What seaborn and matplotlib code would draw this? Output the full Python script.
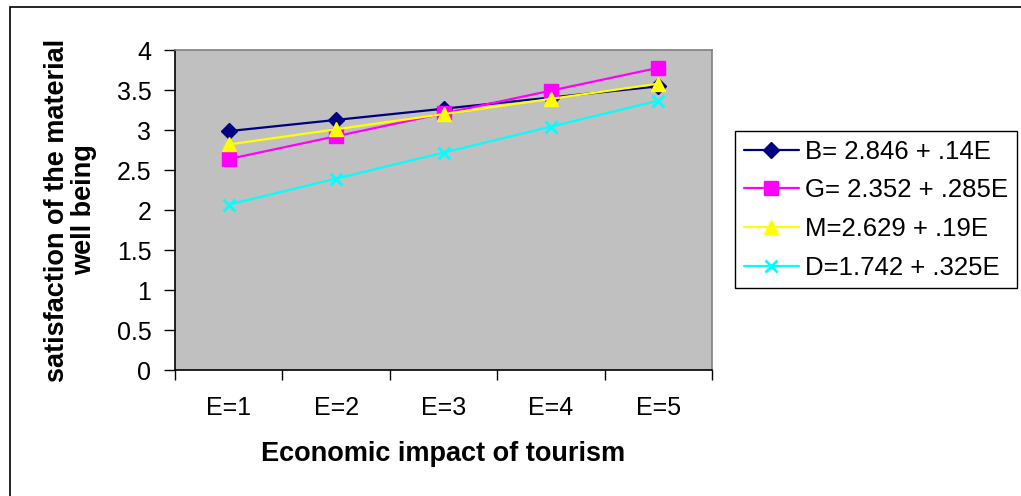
import matplotlib
matplotlib.use("Agg")
import matplotlib.pyplot as plt
import seaborn as sns
import pandas as pd
from matplotlib.patches import Rectangle
from matplotlib.ticker import FixedLocator, NullFormatter

categories = ["E=1", "E=2", "E=3", "E=4", "E=5"]
B_vals = [2.986, 3.126, 3.266, 3.406, 3.546]
G_vals = [2.637, 2.922, 3.207, 3.492, 3.777]
M_vals = [2.819, 3.009, 3.199, 3.389, 3.579]
D_vals = [2.067, 2.392, 2.717, 3.042, 3.367]
series_names = ["B= 2.846 + .14E", "G= 2.352 + .285E", "M=2.629 + .19E", "D=1.742 + .325E"]
y_ticks = [0, 0.5, 1, 1.5, 2, 2.5, 3, 3.5, 4]

sns.set_style("white")
plt.rcParams['font.family'] = ['Liberation Sans', 'DejaVu Sans']
plt.rcParams['text.color'] = 'black'
plt.rcParams['axes.labelcolor'] = 'black'
plt.rcParams['xtick.color'] = 'black'
plt.rcParams['ytick.color'] = 'black'

rows = []
for name, vals in zip(series_names, [B_vals, G_vals, M_vals, D_vals]):
    for c, v in zip(categories, vals):
        rows.append({"E": c, "value": v, "series": name})
df = pd.DataFrame(rows)

colors = ["#000080", "#FF00FF", "#FFFF00", "#00FFFF"]
markers = ["D", "s", "^", "x"]
msizes = [8, 9.5, 10, 9]

fig = plt.figure(figsize=(10.21, 4.96), dpi=100)
ax = fig.add_axes([175/1021, 1-370/496, (712-175)/1021, (370-50)/496])
ax.set_facecolor("#C0C0C0")

for i, name in enumerate(series_names):
    sub = df[df["series"] == name]
    sns.lineplot(data=sub, x="E", y="value", ax=ax, color=colors[i], marker=markers[i],
                 markersize=msizes[i], markeredgecolor=colors[i],
                 markeredgewidth=2 if markers[i] == "x" else 1,
                 linewidth=1.6, label=name, sort=False)

ax.set_xlim(-0.5, 4.5)
ax.set_ylim(0, 4)
ax.set_yticks(y_ticks)
ax.set_yticklabels([f"{t:g}" for t in y_ticks])
ax.xaxis.set_major_locator(FixedLocator([-0.5, 0.5, 1.5, 2.5, 3.5, 4.5]))
ax.xaxis.set_major_formatter(NullFormatter())
ax.xaxis.set_minor_locator(FixedLocator([0, 1, 2, 3, 4]))
ax.set_xticklabels(categories, minor=True)
ax.tick_params(axis="x", which="major", direction="out", length=7, width=1, color="black", bottom=True)
ax.tick_params(axis="x", which="minor", length=0, pad=19, labelsize=18, labelcolor="black")
ax.tick_params(axis="y", direction="out", length=8, width=1, color="black", left=True, labelsize=18, pad=9,
               labelcolor="black")

for s in ["left", "bottom"]:
    ax.spines[s].set_color("black")
    ax.spines[s].set_linewidth(1.2)
for s in ["top", "right"]:
    ax.spines[s].set_color("#808080")
    ax.spines[s].set_linewidth(1.2)

ax.set_xlabel("Economic impact of tourism", fontsize=19.5, fontweight="bold", labelpad=15, color="black")
ax.set_ylabel("satisfaction of the material\nwell being", fontsize=19.5, fontweight="bold", labelpad=14,
              linespacing=1.05, color="black")

leg = ax.legend(loc="upper left", bbox_to_anchor=(735/1021, 1-131/496), bbox_transform=fig.transFigure,
                fontsize=18.5, frameon=True, fancybox=False, framealpha=1, edgecolor="black",
                handlelength=2.15, handletextpad=0.25, borderpad=0.34, labelspacing=0.57, borderaxespad=0)
leg.get_frame().set_linewidth(1.0)
for t in leg.get_texts():
    t.set_color("black")

fig.patches.append(Rectangle((10/1021, -0.05), 1.2, 1-7/496+0.05, transform=fig.transFigure,
                             fill=False, edgecolor="black", linewidth=1.2))

fig.savefig("out.png", dpi=100, facecolor="white")
